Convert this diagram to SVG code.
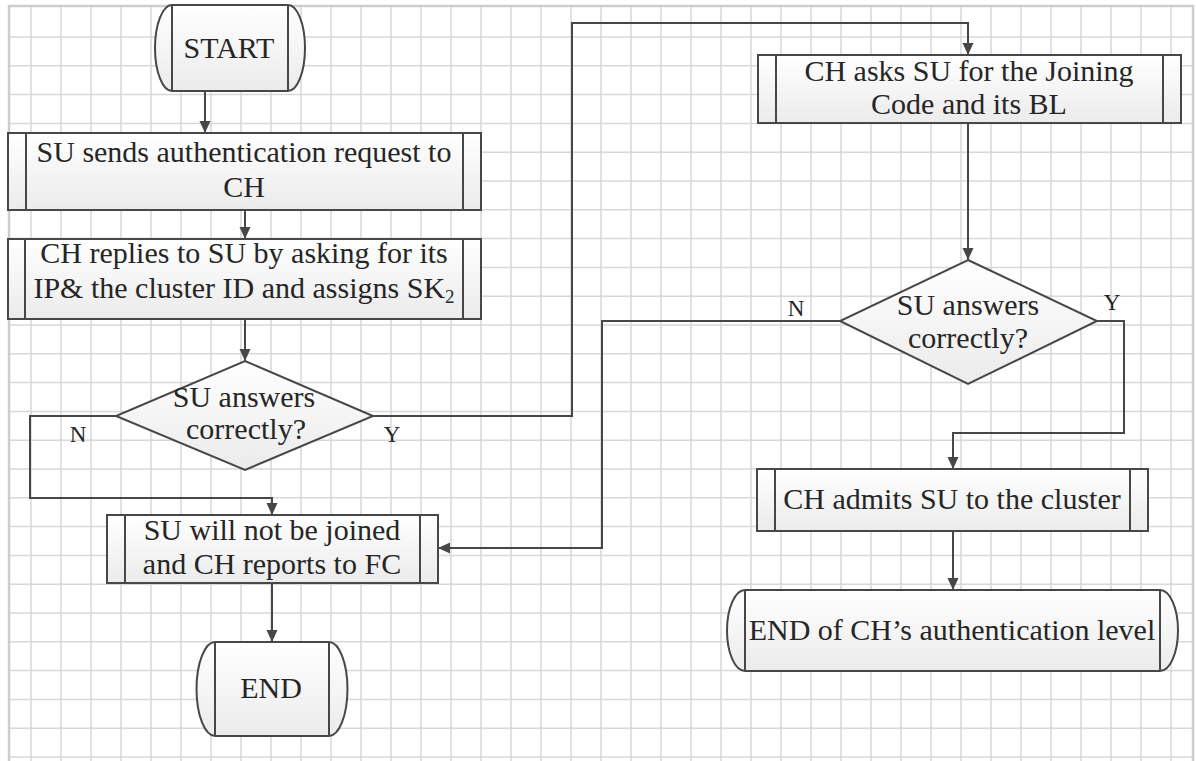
<svg xmlns="http://www.w3.org/2000/svg" width="1196" height="761" viewBox="0 0 1196 761">
<style>
.grid{stroke:#d8d8d8;stroke-width:1.5;fill:none}
.border{stroke:#cdcdcd;stroke-width:2.5;fill:none}
.shape{fill:url(#fillg);stroke:#474747;stroke-width:2}
.inner{stroke:#474747;stroke-width:2;fill:none}
.conn{stroke:#474747;stroke-width:2;fill:none}
.t{font-family:"Liberation Serif","Times New Roman",serif;font-size:30px;fill:#262626;text-anchor:middle}
.lbl{font-family:"Liberation Serif","Times New Roman",serif;font-size:23px;fill:#262626;text-anchor:middle}
</style>
<defs>
<linearGradient id="fillg" x1="0" y1="0" x2="0" y2="1">
<stop offset="0" stop-color="#ffffff"/>
<stop offset="1" stop-color="#ebebeb"/>
</linearGradient>
<marker id="arr" markerWidth="12" markerHeight="12" viewBox="0 0 12 12" refX="12" refY="6" orient="auto" markerUnits="userSpaceOnUse">
<path d="M0,0.5 L12,6 L0,11.5 Z" fill="#474747"/>
</marker>
</defs>
<rect x="0" y="0" width="1196" height="761" fill="#ffffff"/>
<g id="grid">
<path class="grid" d="M31 6V761M61 6V761M91 6V761M121 6V761M151 6V761M181 6V761M211 6V761M241 6V761M271 6V761M301 6V761M331 6V761M361 6V761M391 6V761M421 6V761M451 6V761M481 6V761M511 6V761M541 6V761M571 6V761M601 6V761M631 6V761M661 6V761M691 6V761M721 6V761M751 6V761M781 6V761M811 6V761M841 6V761M871 6V761M901 6V761M931 6V761M961 6V761M991 6V761M1021 6V761M1051 6V761M1081 6V761M1111 6V761M1141 6V761M1171 6V761"/>
<path class="grid" d="M9 37H1193M9 65.8H1193M9 94.6H1193M9 123.4H1193M9 152.2H1193M9 181H1193M9 209.8H1193M9 238.6H1193M9 267.4H1193M9 296.2H1193M9 325H1193M9 353.8H1193M9 382.6H1193M9 411.4H1193M9 440.2H1193M9 469H1193M9 497.8H1193M9 526.6H1193M9 555.4H1193M9 584.2H1193M9 613H1193M9 641.8H1193M9 670.6H1193M9 699.4H1193M9 728.2H1193M9 757H1193"/>
<path class="border" d="M9 765V6H1193V765"/>
</g>
<g id="connectors">
<path class="conn" d="M205 91V133" marker-end="url(#arr)"/>
<path class="conn" d="M245 210V239" marker-end="url(#arr)"/>
<path class="conn" d="M245 319V361" marker-end="url(#arr)"/>
<path class="conn" d="M116 416H30V498H272V515" marker-end="url(#arr)"/>
<path class="conn" d="M373 416H572V23H968V55" marker-end="url(#arr)"/>
<path class="conn" d="M968 123V260" marker-end="url(#arr)"/>
<path class="conn" d="M840 321H602V548H438" marker-end="url(#arr)"/>
<path class="conn" d="M1097 321H1124V433H953V469" marker-end="url(#arr)"/>
<path class="conn" d="M272 583V642" marker-end="url(#arr)"/>
<path class="conn" d="M953 531V590" marker-end="url(#arr)"/>
<text class="lbl" x="78" y="442">N</text>
<text class="lbl" x="392" y="442">Y</text>
<text class="lbl" x="796" y="316">N</text>
<text class="lbl" x="1112" y="310">Y</text>
</g>
<g id="start">
<path class="shape" d="M172 5H288A17 43 0 0 1 288 91H172A17 43 0 0 1 172 5Z"/>
<path class="inner" d="M172 5V91M288 5V91"/>
<text class="t" x="229" y="58">START</text>
</g>
<g id="box1">
<rect class="shape" x="8" y="133" width="473" height="77"/>
<path class="inner" d="M26 133V210M463 133V210"/>
<text class="t" x="244" y="162">SU sends authentication request to</text>
<text class="t" x="244" y="197">CH</text>
</g>
<g id="box2">
<rect class="shape" x="8" y="239" width="473" height="80"/>
<path class="inner" d="M25 239V319M463 239V319"/>
<text class="t" x="244" y="263">CH replies to SU by asking for its</text>
<text class="t" x="244" y="298">IP&amp; the cluster ID and assigns SK<tspan font-size="19" dy="5">2</tspan></text>
</g>
<g id="decision1">
<path class="shape" d="M245 361L373 416L245 470L116 416Z"/>
<text class="t" x="244" y="407">SU answers</text>
<text class="t" x="246" y="439">correctly?</text>
</g>
<g id="box3">
<rect class="shape" x="107" y="515" width="331" height="68"/>
<path class="inner" d="M125 515V583M420 515V583"/>
<text class="t" x="272" y="540">SU will not be joined</text>
<text class="t" x="272" y="574">and CH reports to FC</text>
</g>
<g id="end1">
<path class="shape" d="M215 642H329A18.5 47 0 0 1 329 736H215A18.5 47 0 0 1 215 642Z"/>
<path class="inner" d="M215 642V736M329 642V736"/>
<text class="t" x="271" y="698">END</text>
</g>
<g id="box4">
<rect class="shape" x="758" y="55" width="423" height="68"/>
<path class="inner" d="M776 55V123M1163 55V123"/>
<text class="t" x="969" y="81">CH asks SU for the Joining</text>
<text class="t" x="969" y="114">Code and its BL</text>
</g>
<g id="decision2">
<path class="shape" d="M968 260L1097 321L968 384L840 321Z"/>
<text class="t" x="968" y="315">SU answers</text>
<text class="t" x="968" y="348">correctly?</text>
</g>
<g id="box5">
<rect class="shape" x="757" y="469" width="391" height="62"/>
<path class="inner" d="M775 469V531M1130 469V531"/>
<text class="t" x="952" y="509">CH admits SU to the cluster</text>
</g>
<g id="end2">
<path class="shape" d="M745 590H1160A18 40.5 0 0 1 1160 671H745A18 40.5 0 0 1 745 590Z"/>
<path class="inner" d="M745 590V671M1160 590V671"/>
<text class="t" x="952" y="640">END of CH’s authentication level</text>
</g>
</svg>
